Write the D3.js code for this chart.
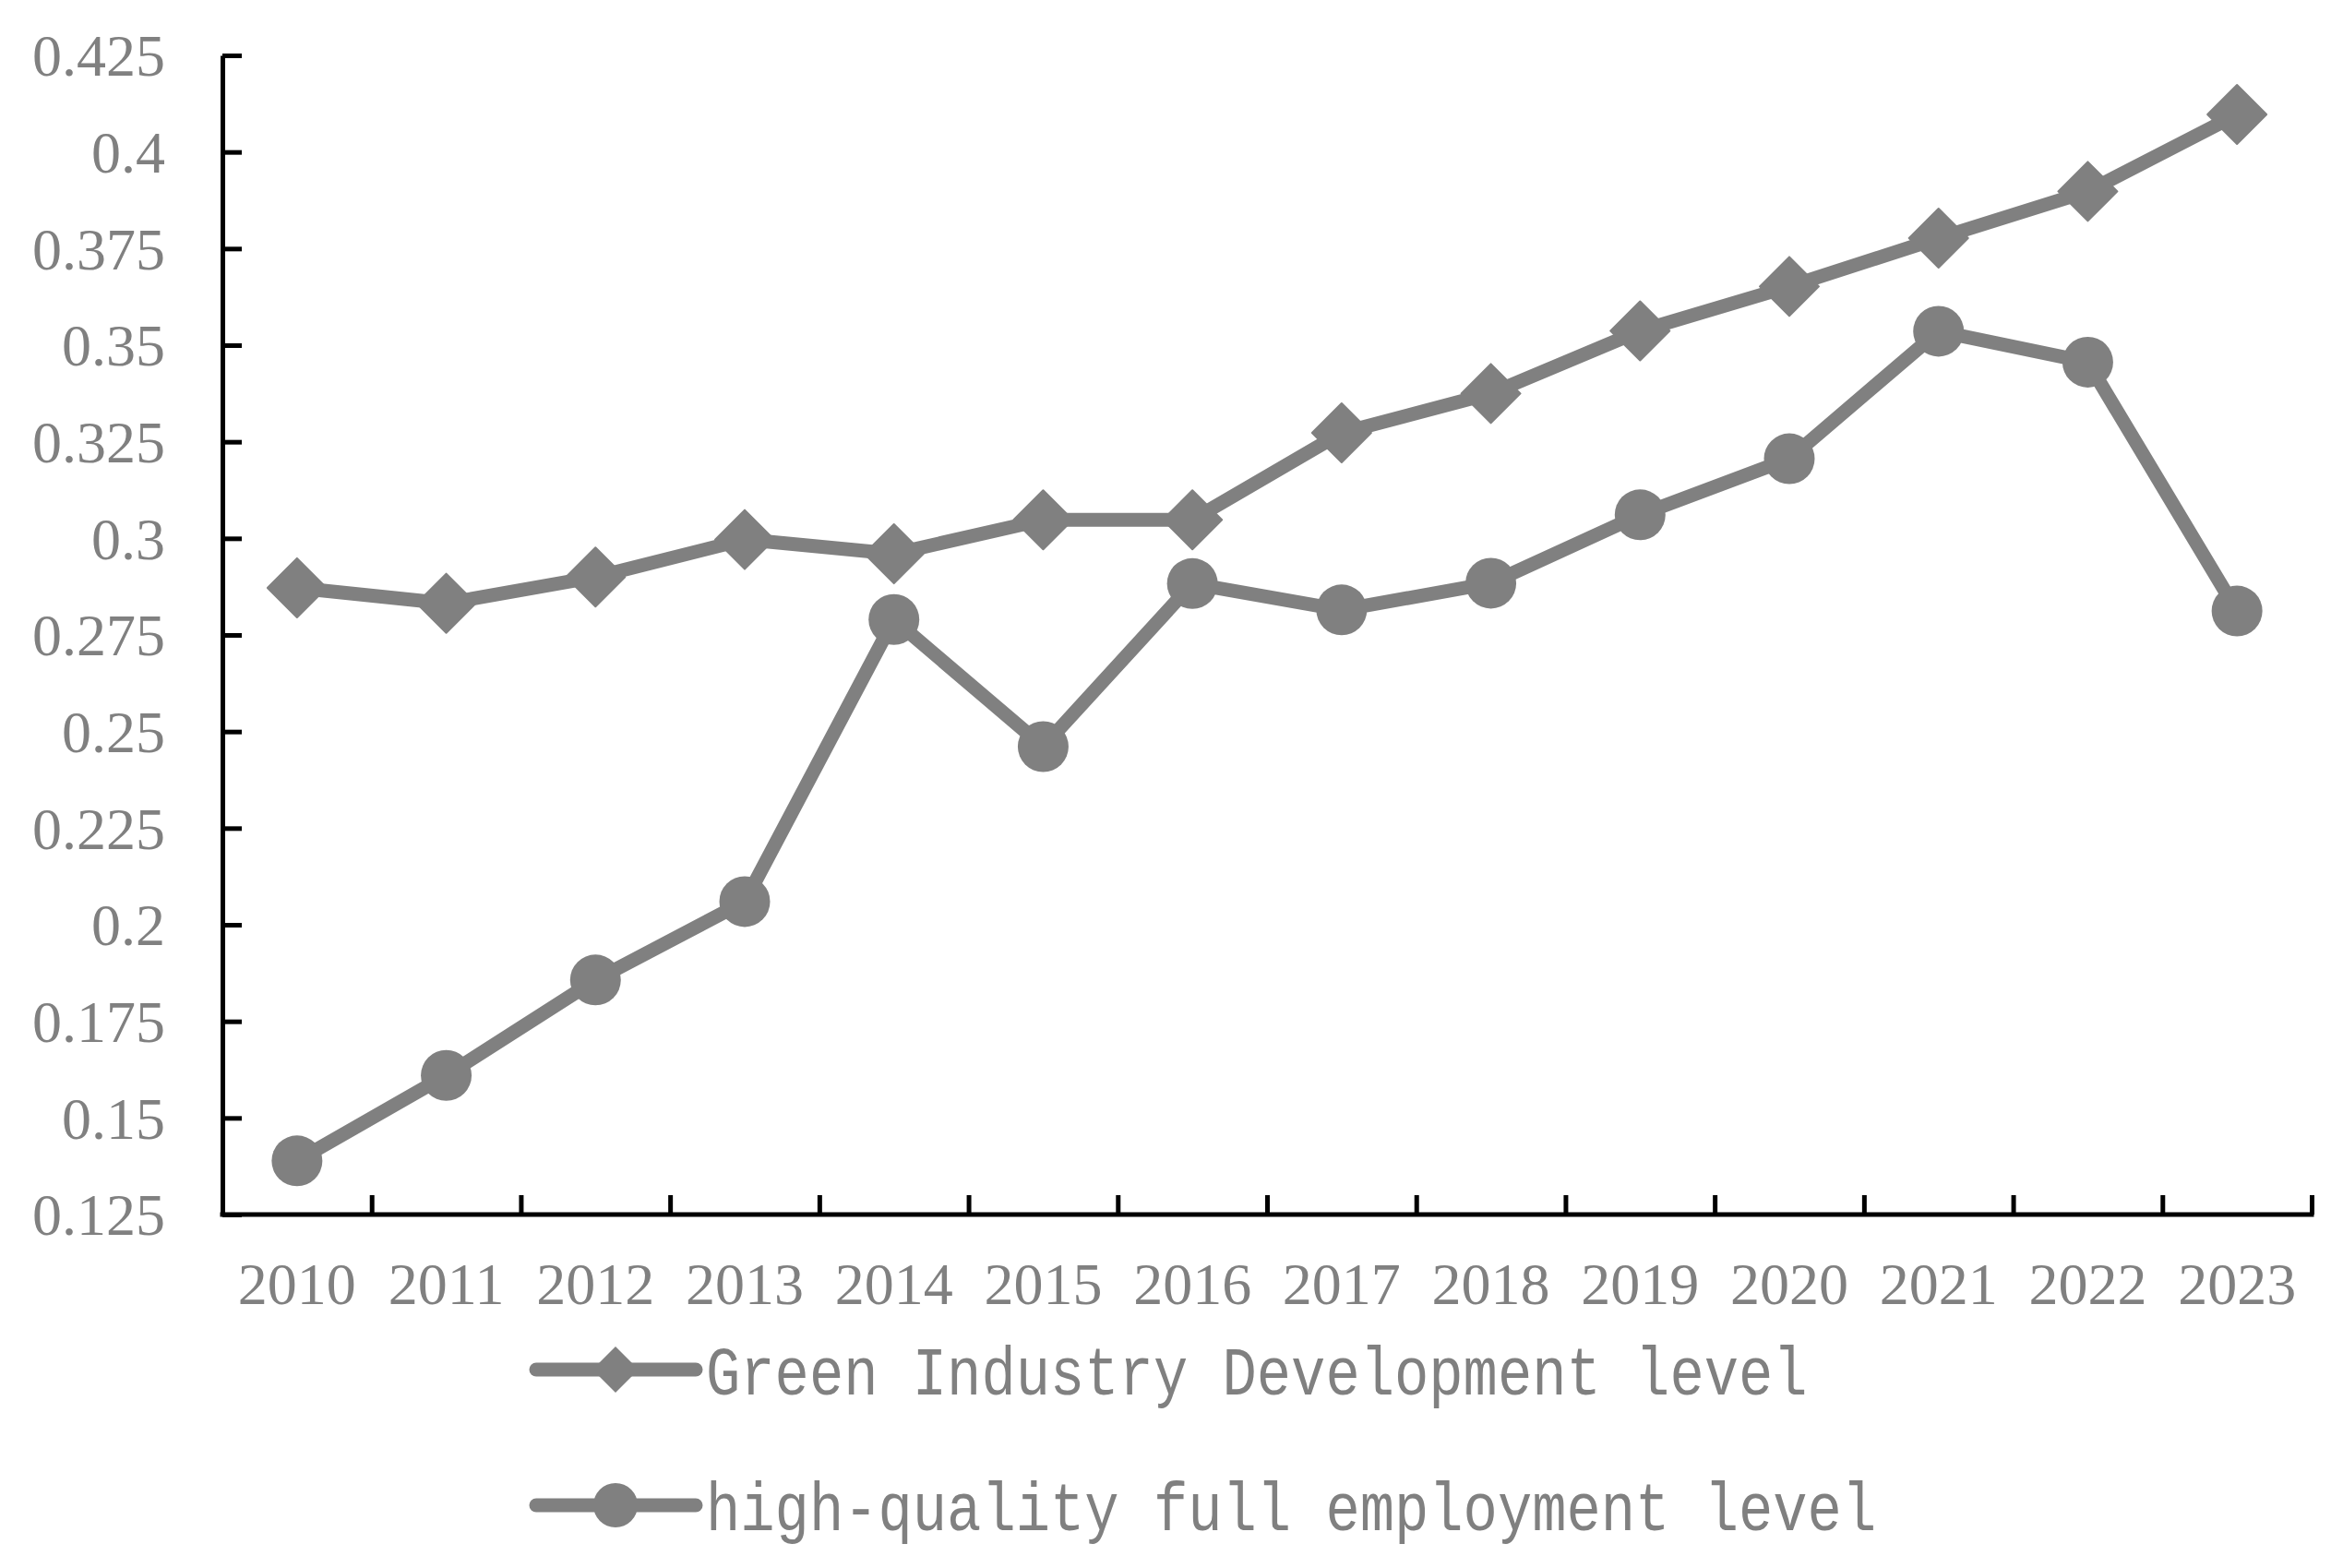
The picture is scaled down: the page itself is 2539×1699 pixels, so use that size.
<!DOCTYPE html>
<html>
<head>
<meta charset="utf-8">
<script src="https://cdn.jsdelivr.net/npm/d3@7"></script>
<style>
  html, body { margin: 0; padding: 0; background: #fff; }
  svg { display: block; }
</style>
</head>
<body>
<svg id="chart" width="2539" height="1699"></svg>
<script>
const years = ["2010","2011","2012","2013","2014","2015","2016","2017","2018","2019","2020","2021","2022","2023"];
const greenIndustry = [0.2872, 0.2832, 0.2900, 0.2997, 0.2960, 0.3048, 0.3048, 0.3273, 0.3375, 0.3537, 0.3652, 0.3777, 0.3898, 0.4097];
const employment   = [0.1389, 0.1610, 0.1857, 0.2060, 0.2790, 0.2461, 0.2883, 0.2815, 0.2884, 0.3061, 0.3206, 0.3536, 0.3456, 0.2812];
const yTickValues = [0.125, 0.15, 0.175, 0.2, 0.225, 0.25, 0.275, 0.3, 0.325, 0.35, 0.375, 0.4, 0.425];
const yTickLabels = ["0.125","0.15","0.175","0.2","0.225","0.25","0.275","0.3","0.325","0.35","0.375","0.4","0.425"];
const seriesNames = ["Green Industry Development level", "high-quality full employment level"];

const GRAY = "#808080";
const svg = d3.select("#chart");

const plotLeft = 241, plotRight = 2505, plotTop = 60, plotBottom = 1316;

const x = d3.scaleBand().domain(years).range([plotLeft, plotRight]).paddingInner(0).paddingOuter(0);
const xEdge = d3.scaleLinear().domain([0, years.length]).range([plotLeft, plotRight]);
const y = d3.scaleLinear().domain([0.125, 0.425]).range([plotBottom, plotTop]);

// Y axis
const yAxis = d3.axisLeft(y)
  .tickValues(yTickValues)
  .tickFormat((d, i) => yTickLabels[i])
  .tickSize(-21)
  .tickSizeOuter(0)
  .tickPadding(62);
const gy = svg.append("g").attr("transform", `translate(${plotLeft},0)`).call(yAxis);
gy.select(".domain").attr("stroke", "#000").attr("stroke-width", 5);
gy.selectAll(".tick line").attr("stroke", "#000").attr("stroke-width", 5);
gy.selectAll(".tick text")
  .attr("fill", GRAY)
  .attr("font-family", "'Liberation Serif', 'Times New Roman', serif")
  .attr("font-size", 64)
  .attr("dy", "0.34em");

// X axis (ticks at category boundaries)
const xAxis = d3.axisBottom(xEdge)
  .tickValues(d3.range(1, years.length + 1))
  .tickFormat("")
  .tickSize(-21)
  .tickSizeOuter(0);
const gx = svg.append("g").attr("transform", `translate(0,${plotBottom})`).call(xAxis);
gx.select(".domain").attr("stroke", "#000").attr("stroke-width", 5).attr("d", `M${plotLeft - 2.5},0H${plotRight + 2.5}`);
gx.selectAll(".tick line").attr("stroke", "#000").attr("stroke-width", 5);

// X labels
svg.append("g").selectAll("text").data(years).join("text")
  .attr("x", d => x(d) + x.bandwidth() / 2)
  .attr("y", 1413)
  .attr("text-anchor", "middle")
  .attr("fill", GRAY)
  .attr("font-family", "'Liberation Serif', 'Times New Roman', serif")
  .attr("font-size", 64)
  .text(d => d);

const cx = d => x(d) + x.bandwidth() / 2;
const line = d3.line().x(d => cx(d.year)).y(d => y(d.v));

const gData = years.map((yr, i) => ({ year: yr, v: greenIndustry[i] }));
const eData = years.map((yr, i) => ({ year: yr, v: employment[i] }));

const diamond = d3.symbol().type(d3.symbolSquare).size(2048);
const legDiamond = d3.symbol().type(d3.symbolSquare).size(1250);

// Green series
svg.append("path").datum(gData)
  .attr("d", line).attr("fill", "none").attr("stroke", GRAY)
  .attr("stroke-width", 15).attr("stroke-linejoin", "round");
svg.append("g").selectAll("path").data(gData).join("path")
  .attr("d", diamond)
  .attr("transform", d => `translate(${cx(d.year)},${y(d.v)}) rotate(45)`)
  .attr("fill", GRAY).attr("stroke", GRAY).attr("stroke-width", 2).attr("stroke-linejoin", "round");

// Employment series
svg.append("path").datum(eData)
  .attr("d", line).attr("fill", "none").attr("stroke", GRAY)
  .attr("stroke-width", 15).attr("stroke-linejoin", "round");
svg.append("g").selectAll("circle").data(eData).join("circle")
  .attr("cx", d => cx(d.year)).attr("cy", d => y(d.v)).attr("r", 27.5)
  .attr("fill", GRAY);

// Legend
const legendRows = [1484, 1631];
const lg = svg.append("g");
seriesNames.forEach((name, i) => {
  const ly = legendRows[i];
  lg.append("line").attr("x1", 581).attr("x2", 754).attr("y1", ly).attr("y2", ly)
    .attr("stroke", GRAY).attr("stroke-width", 15).attr("stroke-linecap", "round");
  if (i === 0) {
    lg.append("path").attr("d", legDiamond)
      .attr("transform", `translate(667,${ly}) rotate(45)`).attr("fill", GRAY);
  } else {
    lg.append("circle").attr("cx", 667).attr("cy", ly).attr("r", 24).attr("fill", GRAY);
  }
  lg.append("text")
    .attr("x", 765).attr("y", ly + 27)
    .attr("fill", GRAY)
    .attr("font-family", "'Liberation Mono', 'DejaVu Sans Mono', monospace")
    .attr("font-size", 74)
    .attr("textLength", name.length * 37.3)
    .attr("lengthAdjust", "spacingAndGlyphs")
    .text(name);
});
</script>
</body>
</html>
